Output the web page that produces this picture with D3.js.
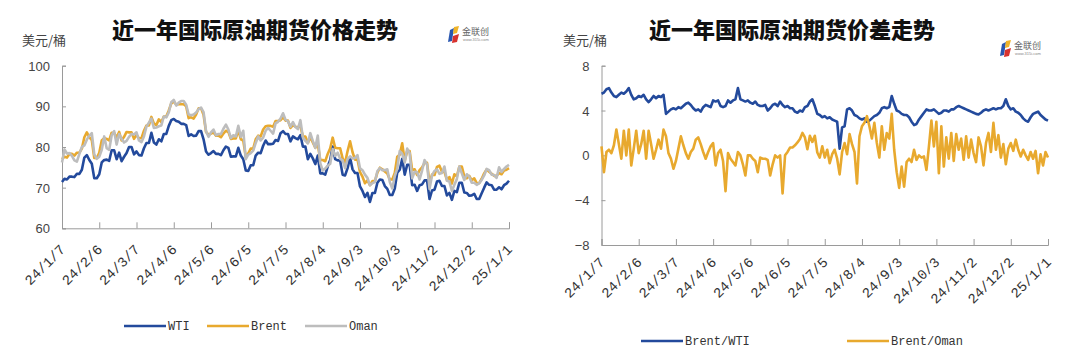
<!DOCTYPE html>
<html><head><meta charset="utf-8">
<script src="https://cdn.jsdelivr.net/npm/d3@7"></script>
<style>body{margin:0;background:#fff;}svg{display:block;}</style>
</head><body>
<svg id="c" width="1072" height="357"></svg>
<script>
// sample every 2 calendar days starting 2024-01-07 (day 0) to 2025-01-01 (day 360)
const stepDays = 2;
const tickDays = [0,30,60,90,120,150,180,210,240,270,300,330,360];
const tickLabels = ["24/1/7","24/2/6","24/3/7","24/4/6","24/5/6","24/6/5","24/7/5","24/8/4","24/9/3","24/10/3","24/11/2","24/12/2","25/1/1"];
const priceTicks = [60,70,80,90,100];
const spreadTicks = [-8,-4,0,4,8];

const wti = [
71.4,72.2,72.0,72.7,72.7,72.6,73.4,73.4,74.4,77.4,
78.0,76.8,75.9,72.3,72.3,73.3,76.2,76.8,76.9,76.6,
79.2,79.2,77.0,78.6,76.5,77.6,78.5,80.0,80.0,78.2,
78.9,78.0,77.9,79.7,81.0,81.0,83.5,81.1,80.6,81.9,
81.4,83.2,83.2,85.2,86.6,86.9,86.4,86.2,85.7,85.7,
85.4,82.7,83.1,82.7,82.8,83.9,83.9,81.9,78.9,78.1,
78.5,79.0,78.3,78.3,78.0,79.2,80.1,79.8,77.6,77.7,
77.7,79.8,77.9,77.0,74.2,74.1,75.5,75.5,77.9,78.6,
78.5,80.3,81.6,80.7,80.7,80.8,81.7,81.5,83.4,83.9,
83.2,83.2,81.4,82.6,82.2,81.9,82.9,80.1,80.1,77.0,
78.3,77.2,75.8,77.9,73.5,73.5,73.2,75.2,76.8,80.1,
77.0,76.7,76.7,73.2,73.0,74.8,77.4,74.5,73.6,73.6,
70.3,69.2,67.7,68.7,66.5,68.7,68.7,71.2,72.0,71.9,
70.4,69.7,68.2,68.2,69.8,73.7,74.4,77.1,73.2,75.6,
75.6,70.6,70.7,69.2,70.6,70.8,71.8,71.8,67.2,69.3,
69.5,71.5,71.7,70.4,70.4,68.1,68.7,67.0,69.2,68.9,
71.2,71.2,68.8,68.7,68.0,68.1,68.5,67.2,67.2,68.6,
70.0,71.3,70.7,70.6,69.5,69.5,70.1,69.6,70.6,71.0,
71.7];

const brent = [
77.0,77.6,77.4,78.3,78.3,77.9,78.6,78.6,79.6,82.4,
83.6,82.4,81.7,77.3,77.3,78.6,81.6,82.2,82.0,81.6,
83.5,83.5,82.3,83.7,81.6,82.5,83.7,83.6,83.6,82.0,
83.0,82.1,82.2,84.0,85.3,85.3,87.4,85.8,85.4,86.8,
86.1,87.5,87.5,89.0,90.7,91.2,90.4,90.5,90.5,90.5,
90.0,87.1,87.3,87.0,88.0,89.5,89.5,87.9,83.7,83.0,
83.3,83.6,82.8,82.8,82.4,83.3,84.0,83.7,82.0,82.1,
82.1,84.2,81.9,81.6,77.5,78.4,79.6,79.6,81.9,82.8,
82.6,84.3,85.1,85.2,85.2,85.0,86.4,86.4,86.6,87.3,
86.5,86.5,84.7,85.4,85.0,84.9,85.1,82.6,82.6,81.0,
82.4,81.1,79.8,80.7,76.8,76.8,76.5,78.3,79.7,82.3,
79.8,79.7,79.7,77.2,76.1,79.0,81.4,78.7,76.9,76.9,
73.8,72.7,71.1,71.8,70.6,71.6,71.6,73.7,74.9,74.5,
74.0,73.5,72.0,72.0,73.6,77.6,78.1,80.9,76.6,79.0,
79.0,74.3,74.5,73.1,74.3,75.0,76.1,76.1,71.1,73.2,
73.1,75.1,75.4,73.9,73.9,71.9,72.6,71.0,73.3,72.8,
75.2,75.2,72.8,72.3,72.9,71.8,72.3,71.1,71.1,72.2,
73.5,74.5,73.9,73.4,72.9,72.9,73.6,73.3,74.2,74.4,
74.8];

const oman = [
76.2,79.4,78.4,78.5,77.8,76.7,76.4,78.3,80.0,80.4,
81.8,82.8,83.4,78.2,77.1,77.6,79.3,82.6,79.7,79.3,
82.9,83.9,80.6,83.2,82.0,81.1,81.5,82.5,83.2,83.1,
83.6,81.6,81.2,82.6,85.0,86.0,87.0,84.7,84.8,85.1,
85.3,87.5,87.3,88.5,91.0,91.6,90.2,90.9,91.3,91.3,
90.4,88.0,87.8,88.0,88.5,89.3,89.7,88.6,83.9,82.5,
83.6,84.3,82.9,83.2,83.2,84.5,85.5,84.3,82.2,82.9,
82.6,85.2,82.5,84.0,77.0,78.1,78.5,79.1,81.0,82.6,
81.6,82.3,84.0,84.7,84.0,83.3,85.8,86.2,87.0,88.3,
86.7,86.3,85.0,86.1,84.9,84.4,86.6,82.3,81.5,80.9,
83.4,81.5,79.8,82.8,76.0,74.2,74.7,75.4,75.9,79.5,
77.8,78.6,77.1,76.7,74.8,77.0,77.7,77.2,77.3,78.0,
74.8,74.3,73.2,72.4,70.6,71.1,71.4,74.1,74.8,74.3,
74.3,74.5,71.4,69.8,72.8,74.7,79.0,78.3,76.2,79.6,
78.5,72.3,73.9,73.8,72.0,74.2,76.8,75.7,69.7,73.0,
74.1,74.5,73.4,73.6,75.2,71.7,71.5,69.2,70.7,72.1,
75.2,73.5,71.9,73.3,72.7,71.2,71.2,70.7,71.1,71.9,
73.0,74.6,74.3,73.2,73.1,72.4,75.0,73.9,74.6,75.2,
75.6];

const brentWti = [
5.5,5.6,5.9,6.0,5.6,5.3,5.2,5.4,5.6,5.5,
5.7,6.0,5.4,5.0,5.1,5.3,5.2,5.4,5.0,4.75,
5.0,5.3,5.1,5.3,5.2,5.4,3.7,3.9,4.1,4.2,
4.1,4.3,4.2,4.4,4.6,4.7,4.5,4.2,4.0,4.1,
3.9,4.3,4.5,4.4,4.3,4.9,4.8,4.9,4.4,4.3,
4.4,4.9,4.7,4.9,5.0,6.0,5.0,4.9,4.8,4.9,
4.7,4.6,4.8,4.5,4.4,4.4,4.5,4.0,4.2,4.5,
4.6,4.4,4.8,4.5,4.3,4.4,4.2,4.2,3.9,3.8,
4.0,3.9,4.3,4.4,4.8,5.0,4.4,3.7,3.6,3.4,
3.5,3.3,3.4,3.2,3.1,3.0,0.6,2.5,2.6,4.1,
4.2,4.0,3.6,3.5,3.3,3.2,3.3,3.0,3.1,3.3,
3.5,3.6,3.8,4.2,4.3,4.2,4.3,5.3,4.6,4.0,
3.9,3.7,3.6,3.6,3.4,3.0,2.7,2.8,3.2,3.5,
3.8,4.1,4.0,4.0,4.1,3.9,3.7,3.8,4.0,4.0,
3.9,4.1,4.1,4.3,4.4,4.3,4.2,4.1,4.0,3.9,
3.8,3.7,3.65,3.8,4.0,4.1,4.0,4.1,4.2,4.1,
4.2,4.2,4.4,5.0,4.4,4.1,4.2,3.9,3.8,3.6,
3.3,3.1,3.0,3.4,3.7,3.8,3.9,3.6,3.4,3.2,
3.1];

const brentOman = [
0.8,-1.5,0.3,0.5,0.2,0.9,2.3,1.0,-0.3,2.2,
0.0,2.3,-0.9,0.6,2.2,0.2,1.0,2.2,-0.3,2.2,
1.0,-0.3,0.5,1.4,0.6,2.3,1.7,0.2,-0.3,-1.2,
-0.5,0.6,1.7,0.9,0.2,-0.3,0.3,0.6,1.4,1.6,
1.0,0.3,-0.3,0.3,0.8,1.1,-0.9,0.2,0.5,-0.5,
-3.2,0.2,-0.3,-0.6,-0.9,0.3,0.0,-0.8,-1.8,0.0,
0.0,-0.3,-0.5,-1.5,-0.2,-0.3,-0.3,-0.4,-1.8,-0.8,
0.0,-0.2,0.0,-3.4,0.0,0.3,0.7,0.7,0.9,1.15,
1.45,2.0,1.6,0.55,1.75,1.2,1.75,0.25,-0.2,0.8,
-0.2,0.5,-0.7,0.1,0.5,-0.3,-1.7,0.3,1.1,0.1,
1.9,1.0,0.3,-2.5,1.7,2.6,2.9,3.5,2.6,1.5,
2.9,1.1,-0.2,2.6,0.5,2.0,1.5,3.7,0.5,-1.5,
-2.9,-1.0,-2.8,-0.6,-0.3,-0.6,0.5,-0.4,0.0,-0.2,
-0.1,-1.3,0.8,3.1,0.8,3.0,-1.6,2.6,-1.0,1.6,
-0.3,2.0,-0.5,1.9,0.5,1.5,-0.4,1.7,-0.2,1.4,
0.2,-0.6,1.6,0.8,-0.9,1.1,2.0,0.3,2.9,0.5,
1.8,-0.2,1.0,-0.8,0.6,1.1,0.4,1.4,0.5,-0.1,
0.5,0.0,-0.4,0.3,-0.3,0.4,-1.6,0.1,-0.9,0.3,
-0.2];

const C_BLUE = "#234a9c", C_GOLD = "#e8a92e", C_GRAY = "#bdbdbd", AXIS = "#9a9a9a";
const svg = d3.select("#c");

function toPts(arr){ return arr.map((v,i)=>({d:i*stepDays, v})); }

function drawLogo(g, x0, y0){
  const lg = g.append("g").attr("transform",`translate(${x0},${y0})`);
  lg.append("path").attr("d","M2,4 L6,2 L4,15 L0,16 Z").attr("fill","#2a57b0");
  lg.append("path").attr("d","M6,1 L11,0 L9,7 L5,8 Z").attr("fill","#f0b429");
  lg.append("path").attr("d","M5,10 L11,8 L9,16 L4,17 Z").attr("fill","#d8322e");
  lg.append("text").attr("x",14).attr("y",9).attr("font-family","Noto Sans CJK SC").attr("font-size",9).attr("fill","#666").text("金联创");
  lg.append("text").attr("x",15).attr("y",15).attr("font-family","Liberation Sans").attr("font-size",4).attr("fill","#888").text("www.315i.com");
}

function panel(cfg){
  const g = svg.append("g");
  const x = d3.scaleLinear().domain([0,360]).range([cfg.x0, cfg.x1]);
  const y = d3.scaleLinear().domain(cfg.yDomain).range([cfg.yBottom, cfg.yTop]);

  g.append("text").attr("x",cfg.titleX).attr("y",38).attr("text-anchor","middle")
    .attr("font-family","Noto Sans CJK SC").attr("font-weight","900").attr("font-size",22).attr("fill","#111").text(cfg.title);
  g.append("text").attr("x",cfg.unitX).attr("y",45)
    .attr("font-family","Noto Sans CJK SC").attr("font-size",13).attr("fill","#444").text("美元/桶");

  const ya = g.append("g").attr("transform",`translate(${cfg.x0},0)`)
    .call(d3.axisRight(y).tickValues(cfg.yTicks).tickSize(4).tickFormat(d=> d<0 ? "\u2212"+Math.abs(d) : d));
  ya.select(".domain").attr("stroke",AXIS);
  ya.selectAll(".tick line").attr("stroke",AXIS);
  ya.selectAll(".tick text").attr("x",-12).attr("text-anchor","end").attr("dy","0.35em")
    .attr("font-family","Liberation Sans").attr("font-size",13).attr("fill","#444");

  const xa = g.append("g").attr("transform",`translate(0,${cfg.yBottom})`)
    .call(d3.axisTop(x).tickValues(tickDays).tickSize(6).tickFormat(()=>""));
  xa.select(".domain").attr("stroke",AXIS);
  xa.selectAll(".tick line").attr("stroke",AXIS);
  g.append("g").selectAll("text").data(tickDays).join("text")
    .attr("transform",(d)=>`translate(${x(d)+4},${cfg.yBottom+cfg.labelDy}) rotate(-45)`)
    .attr("text-anchor","end")
    .attr("font-family","Liberation Mono").attr("font-size",14).attr("fill","#333")
    .text((d,i)=>tickLabels[i]);

  const line = d3.line().x(p=>x(p.d)).y(p=>y(p.v));
  cfg.series.forEach(s=>{
    g.append("path").datum(toPts(s.data)).attr("d",line).attr("fill","none")
      .attr("stroke",s.color).attr("stroke-width",2.6).attr("stroke-linejoin","round");
  });
  cfg.series.forEach(s=>{
    g.append("line").attr("x1",s.lx).attr("x2",s.lx+42).attr("y1",cfg.legendY).attr("y2",cfg.legendY)
      .attr("stroke",s.color).attr("stroke-width",2.6);
    g.append("text").attr("x",s.lx+44).attr("y",cfg.legendY).attr("dy","0.35em")
      .attr("font-family","Liberation Mono").attr("font-size",12).attr("fill","#333").text(s.name);
  });
  drawLogo(g, cfg.logoX, cfg.logoY);
}

panel({
  title:"近一年国际原油期货价格走势", titleX:255, unitX:22,
  x0:62, x1:509, yTop:65.7, yBottom:228.3, yDomain:[60,100], yTicks:priceTicks, labelDy:22,
  legendY:326, logoX:448, logoY:26,
  series:[
    {name:"WTI", data:wti, color:C_BLUE, lx:124},
    {name:"Brent", data:brent, color:C_GOLD, lx:207},
    {name:"Oman", data:oman, color:C_GRAY, lx:305}
  ]
});
panel({
  title:"近一年国际原油期货价差走势", titleX:792, unitX:563,
  x0:601.5, x1:1048, yTop:65.7, yBottom:245, yDomain:[-8,8], yTicks:spreadTicks, labelDy:18,
  legendY:341, logoX:1000, logoY:40,
  series:[
    {name:"Brent/WTI", data:brentWti, color:C_BLUE, lx:641},
    {name:"Brent/Oman", data:brentOman, color:C_GOLD, lx:847}
  ]
});
</script>
</body></html>
